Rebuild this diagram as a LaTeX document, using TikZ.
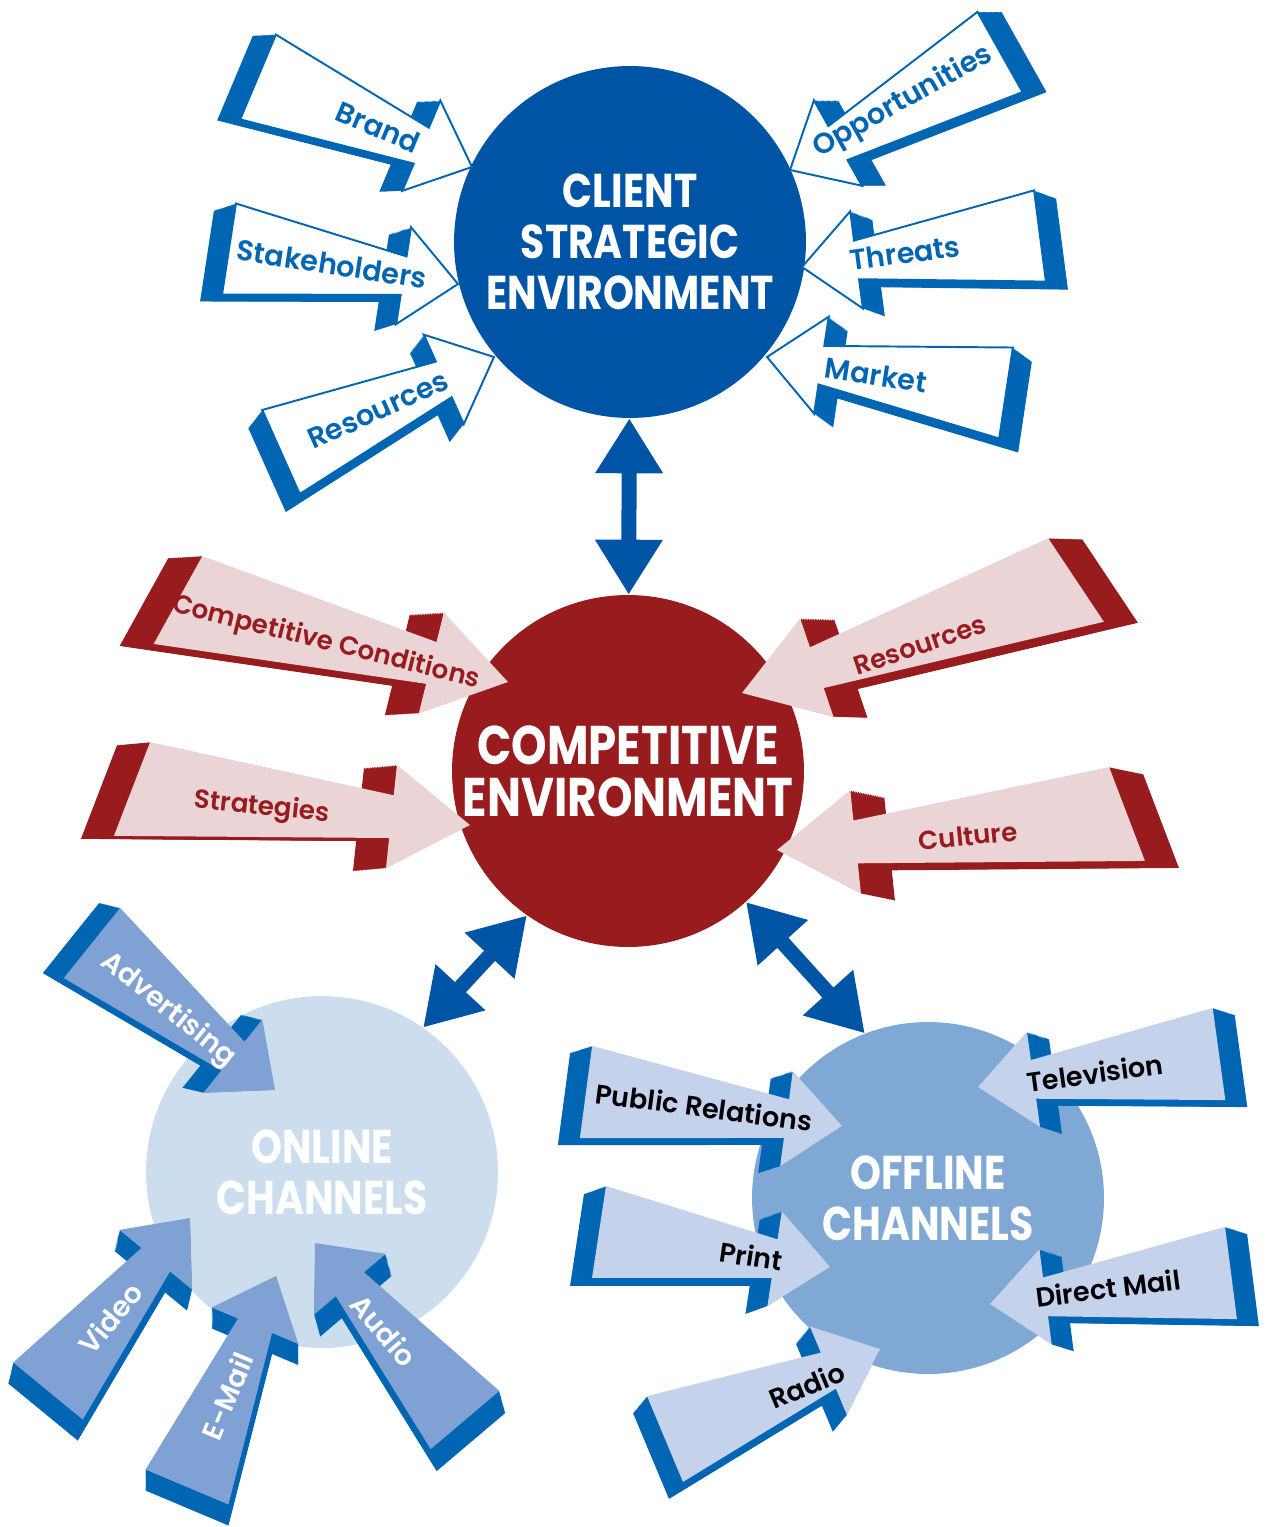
\documentclass[tikz,border=0pt]{standalone}
\usepackage{fontspec}
\setmainfont{Poppins}[BoldFont={Poppins SemiBold}]
\newfontfamily\hubfont{Poppins}[FakeStretch=0.83]
\usetikzlibrary{arrows.meta}

\definecolor{clientblue}{HTML}{0054A6}
\definecolor{sideblue}{HTML}{0066B3}
\definecolor{compred}{HTML}{981B1E}
\definecolor{pinkface}{HTML}{EBD4D5}
\definecolor{onlinefill}{HTML}{CCDDEE}
\definecolor{onlineface}{HTML}{7FA1D3}
\definecolor{offlinefill}{HTML}{7FA8D4}
\definecolor{offlineface}{HTML}{C4D2EC}

% tapered arrow with a swept side: tail x, tail y, tip x, tip y, side x, side y, side colour, face style
\newcommand{\slab}[8]{%
    \pgfmathsetmacro\slabang{atan2((#2)-(#4),(#3)-(#1))}%
    \pgfmathsetmacro\slablen{veclen((#3)-(#1),(#4)-(#2))}%
    \foreach \k in {1, ..., 20} {
        \fill [#7, shift={({\k*(#5)/20},{\k*(#6)/20})}, shift={(#1,#2)}, rotate=\slabang]
            (\tailsk, \tailw) -- (\slablen-\headl, \neckw) -- (\slablen-\headl, \headw) -- (\slablen, 0) --
            (\slablen-\headl, -\headw) -- (\slablen-\headl, -\neckw) -- (-\tailsk, -\tailw) -- cycle;
    }
    \path [#8, shift={(#1,#2)}, rotate=\slabang]
        (\tailsk, \tailw) -- (\slablen-\headl, \neckw) -- (\slablen-\headl, \headw) -- (\slablen, 0) --
        (\slablen-\headl, -\headw) -- (\slablen-\headl, -\neckw) -- (-\tailsk, -\tailw) -- cycle;
}

\tikzset{
    hub/.style={circle, inner sep=0, minimum size=7.04cm, text=white, align=center,
        font=\hubfont\bfseries\fontsize{27}{29}\selectfont},
    link/.style={draw=clientblue, line width=0.3cm,
        arrows={Triangle[width=1.28cm, length=1.1cm]-Triangle[width=1.28cm, length=1.1cm]}},
    tag/.style={inner sep=0, font=\bfseries\fontsize{16.3}{17}\selectfont}
}

\begin{document}
\begin{tikzpicture}[x=0.02cm, y=-0.02cm]
    \useasboundingbox (0, 0) rectangle (1265, 1527);
    \node [hub, fill=clientblue] (client) at (630, 242) {CLIENT\\STRATEGIC\\ENVIRONMENT};
    \node [hub, fill=compred, font=\hubfont\bfseries\fontsize{31}{29.5}\selectfont]
        (comp) at (628, 771) {COMPETITIVE\\ENVIRONMENT};
    \node [hub, fill=onlinefill] (online) at (322, 1172) {ONLINE\\CHANNELS};
    \node [hub, fill=offlinefill] (offline) at (928, 1198) {OFFLINE\\CHANNELS};
    \draw [link] (client) -- (comp);
    \draw [link] (comp.235) -- (online.55);
    \draw [link] (comp.312) -- (offline.111);
    % client side
    \def\tailsk{0} \def\tailw{46} \def\neckw{19.5} \def\headw{49} \def\headl{55}
    \foreach \tx/\ty/\px/\py/\dx/\dy/\lx/\ly/\txt [count=\i] in {
            258/77/472/167/-23/1/378/127/Brand,
            229/249/458/284/-22/7/332/264/Stakeholders,
            281/452/494/357/-14/18/378/410/Resources,
            1000/52/790/170/24/0/903/102/Opportunities,
            1040/236/802/267/22/8/905/253/Threats,
            1006/393/767/357/19/14/876/375/Market} {
        \slab{\tx}{\ty}{\px}{\py}{\dx}{\dy}{sideblue}{fill=white, draw=sideblue, line width=1.1}
        \pgfmathsetmacro\tagrot{atan((\ty-\py)/(\px-\tx))}
        \node [tag, text=sideblue, rotate=\tagrot] (client\i) at (\lx, \ly) {\txt};
    }
    % competitive side, tails cut on a slant
    \def\tailw{48.5} \def\neckw{21.5} \def\headw{52} \def\headl{79}
    \foreach \tx/\ty/\px/\py/\dx/\dy/\sk/\lx/\ly/\txt [count=\i] in {
            178/600/508/682/-34/2/-13/326/643/Competitive Conditions,
            132/789/470/825/-33/3/-13/262/808/Strategies,
            1076/580/742/693/34/1/13/920/645/Resources,
            1127/814/777/850/34/7/13/968/836/Culture} {
        \let\tailsk\sk
        \slab{\tx}{\ty}{\px}{\py}{\dx}{\dy}{compred}{fill=pinkface}
        \pgfmathsetmacro\tagrot{atan((\ty-\py)/(\px-\tx))}
        \node [tag, text=compred, font=\bfseries\fontsize{14.9}{15}\selectfont, rotate=\tagrot]
            (comp\i) at (\lx, \ly) {\txt};
    }
    % online side
    \def\tailsk{0} \def\tailw{45} \def\neckw{18.5} \def\headw{47} \def\headl{54}
    \foreach \tx/\ty/\px/\py/\dx/\dy/\lx/\ly/\txt [count=\i] in {
            92/943/275/1090/-21/-5/168/1010/Advertising,
            48/1391/190/1218/-5/21/110/1318/Video,
            187/1487/276/1276/0/21/227/1396/E-Mail,
            465/1420/315/1243/6/22/384/1330/Audio} {
        \slab{\tx}{\ty}{\px}{\py}{\dx}{\dy}{sideblue}{fill=onlineface}
        \pgfmathsetmacro\tagrot{atan((\ty-\py)/(\px-\tx))}
        \node [tag, text=white, font=\bfseries\fontsize{16}{16}\selectfont, rotate=\tagrot]
            (online\i) at (\lx, \ly) {\txt};
    }
    % offline side
    \def\tailw{46.5} \def\neckw{19.5} \def\headw{48} \def\headl{56}
    \foreach \tx/\ty/\px/\py/\dx/\dy/\lx/\ly/\txt [count=\i] in {
            586/1092/842/1126/-22/7/704/1107/Public Relations,
            599/1232/830/1267/-22/8/751/1256/Print,
            665/1439/880/1349/-14/17/807/1385/Radio,
            1219/1054/978/1087/22/7/1095/1073/Television,
            1231/1273/990/1304/22/7/1108/1288/Direct Mail} {
        \slab{\tx}{\ty}{\px}{\py}{\dx}{\dy}{sideblue}{fill=offlineface}
        \pgfmathsetmacro\tagrot{atan((\ty-\py)/(\px-\tx))}
        \node [tag, text=black, font=\bfseries\fontsize{15.4}{16}\selectfont, rotate=\tagrot]
            (offline\i) at (\lx, \ly) {\txt};
    }
\end{tikzpicture}
\end{document}
